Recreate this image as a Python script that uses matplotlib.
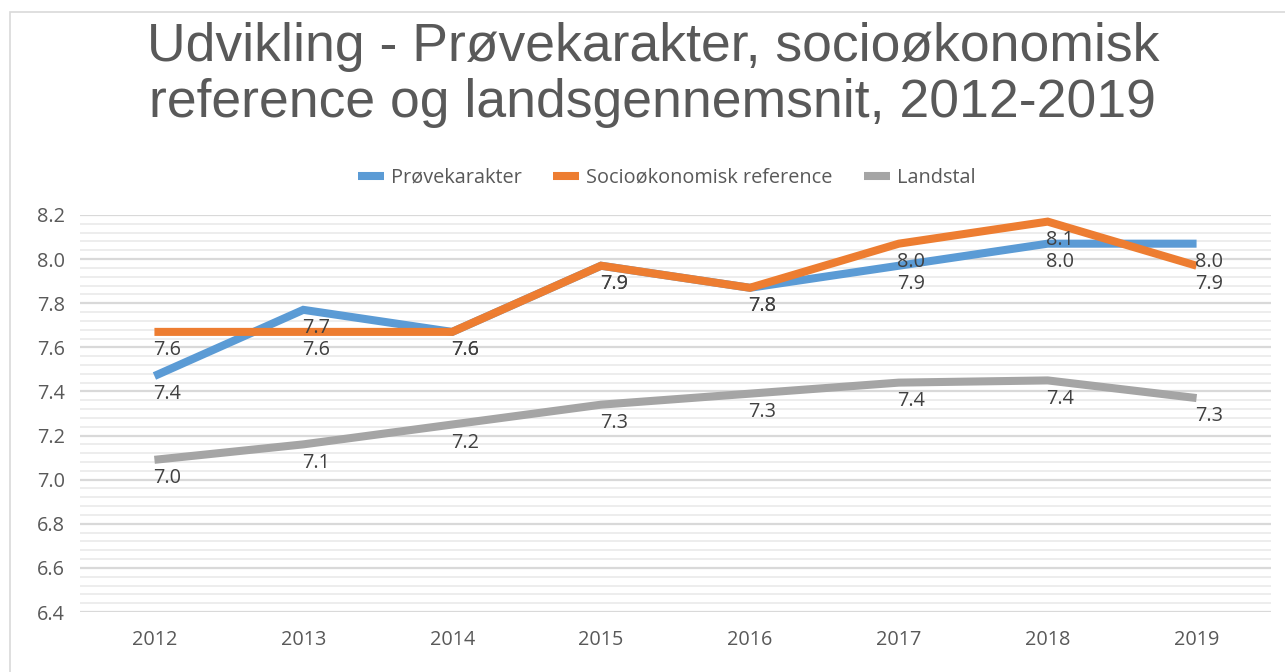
import matplotlib.pyplot as plt
from matplotlib.ticker import MultipleLocator
from matplotlib.patches import Rectangle

years = ["2012", "2013", "2014", "2015", "2016", "2017", "2018", "2019"]

# values
provekarakter = [7.47, 7.77, 7.67, 7.97, 7.87, 7.97, 8.07, 8.07]
socio_ref = [7.67, 7.67, 7.67, 7.97, 7.87, 8.07, 8.17, 7.97]
landstal = [7.09, 7.16, 7.25, 7.34, 7.39, 7.44, 7.45, 7.37]

# data labels as printed in the chart
provekarakter_lbl = ["7.4", "7.7", "7.6", "7.9", "7.8", "7.9", "8.0", "8.0"]
socio_ref_lbl = ["7.6", "7.6", "7.6", "7.9", "7.8", "8.0", "8.1", "7.9"]
landstal_lbl = ["7.0", "7.1", "7.2", "7.3", "7.3", "7.4", "7.4", "7.3"]

txt = "#595959"
tick_font = "Open Sans"
fs = 14.3

fig = plt.figure(figsize=(12.85, 6.72), dpi=100)
fig.patches.append(Rectangle((10 / 1285, -0.01), 1.02, 1 - 12 / 672 + 0.01,
                             transform=fig.transFigure, fill=False,
                             edgecolor="#D9D9D9", linewidth=1.2))

ax = fig.add_axes([80 / 1285, 1 - 612 / 672, (1271 - 80) / 1285, (612 - 215) / 672])

x = range(len(years))
series = [
    (provekarakter, provekarakter_lbl, "#5B9BD5", "Prøvekarakter"),
    (socio_ref, socio_ref_lbl, "#ED7D31", "Socioøkonomisk reference"),
    (landstal, landstal_lbl, "#A5A5A5", "Landstal"),
]
for vals, lbls, col, name in series:
    ax.plot(x, vals, color=col, linewidth=5.8, label=name, solid_capstyle="butt",
            solid_joinstyle="miter", zorder=3)
for vals, lbls, col, name in series:
    for i, (v, l) in enumerate(zip(vals, lbls)):
        ax.annotate(l, (i, v), xytext=(-1, -6), textcoords="offset points",
                    ha="left", va="top", fontsize=fs, color="#404040",
                    family=tick_font, zorder=4)

ax.set_xlim(-0.5, len(years) - 0.5)
ax.set_ylim(6.4, 8.2)
ax.yaxis.set_major_locator(MultipleLocator(0.2))
ax.yaxis.set_minor_locator(MultipleLocator(0.04))
ax.set_xticks(list(x))
ax.set_xticklabels(years)
ax.yaxis.set_major_formatter(plt.FuncFormatter(lambda v, p: f"{v:.1f}"))
ax.grid(True, which="major", axis="y", color="#D9D9D9", linewidth=1.6, zorder=0)
ax.grid(True, which="minor", axis="y", color="#EDEDED", linewidth=1.4, zorder=0)
ax.tick_params(which="both", length=0)
ax.tick_params(axis="y", pad=11, labelsize=fs, labelcolor=txt)
ax.tick_params(axis="x", pad=13, labelsize=fs, labelcolor=txt)
for lab in ax.get_xticklabels() + ax.get_yticklabels():
    lab.set_family(tick_font)
for s in ax.spines.values():
    s.set_visible(False)

fig.text(0.508, 1 - 75 / 672, "Udvikling - Prøvekarakter, socioøkonomisk\nreference og landsgennemsnit, 2012-2019",
         ha="center", va="center", fontsize=38.5, color=txt, family="Liberation Sans",
         linespacing=1.14)

fig.legend(loc="center", bbox_to_anchor=(0.519, 1 - 178 / 672), ncol=3, frameon=False,
           prop={"family": tick_font, "size": fs}, labelcolor=txt, handlelength=1.3,
           columnspacing=1.6, handletextpad=0.35)

fig.savefig("out.png", dpi=100, facecolor="white")
